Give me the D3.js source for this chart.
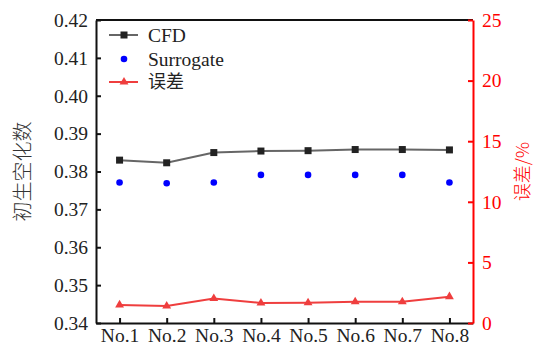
<!DOCTYPE html>
<html><head><meta charset="utf-8">
<script src="https://cdn.jsdelivr.net/npm/d3@7"></script>
<style>body{margin:0;background:#fff}svg{display:block}
.serif{font-family:"Liberation Serif","Times New Roman","DejaVu Serif",serif}
.cjk{font-family:"Noto Sans CJK SC",sans-serif}
</style>
</head><body>
<script>
const categories = ["No.1","No.2","No.3","No.4","No.5","No.6","No.7","No.8"];
const cfd = [0.3830,0.3823,0.3850,0.3854,0.3855,0.3858,0.3858,0.3857];
const surrogate = [0.3771,0.3769,0.3771,0.3791,0.3791,0.3791,0.3791,0.3771];
const errorPct = [1.49,1.40,2.02,1.65,1.67,1.75,1.75,2.17];
const leftTicks = [0.34,0.35,0.36,0.37,0.38,0.39,0.40,0.41,0.42];
const rightTicks = [0,5,10,15,20,25];

const W=535,H=349;
const m={l:96,r:62,t:20,b:26};
const svg=d3.select("body").append("svg").attr("width",W).attr("height",H);
const x=d3.scaleLinear().domain([0.5,categories.length+0.5]).range([m.l,W-m.r]);
const yL=d3.scaleLinear().domain([0.34,0.42]).range([H-m.b,m.t]);
const yR=d3.scaleLinear().domain([0,25]).range([H-m.b,m.t]);
const x0=m.l,x1=W-m.r,y0=H-m.b,y1=m.t;

svg.append("line").attr("x1",x0).attr("x2",x1).attr("y1",y1).attr("y2",y1).attr("stroke","#111").attr("stroke-width",2);

function styleAxis(g,col,tcol){
  g.attr("font-family",null).attr("font-size",null);
  g.select(".domain").attr("stroke",col).attr("stroke-width",2);
  g.selectAll(".tick line").attr("stroke",col).attr("stroke-width",2);
  g.selectAll("text").attr("class","serif").style("font-size","19.5px").attr("fill",tcol);
}
const gL=svg.append("g").attr("transform",`translate(${x0},0)`)
 .call(d3.axisLeft(yL).tickValues(leftTicks).tickFormat(d3.format(".2f")).tickSizeInner(-5).tickSizeOuter(0).tickPadding(8));
styleAxis(gL,"#111","#222");
const gB=svg.append("g").attr("transform",`translate(0,${y0})`)
 .call(d3.axisBottom(x).tickValues(d3.range(1,categories.length+1)).tickFormat(i=>categories[i-1]).tickSizeInner(-5).tickSizeOuter(0).tickPadding(5));
styleAxis(gB,"#111","#222");
const gR=svg.append("g").attr("transform",`translate(${x1},0)`)
 .call(d3.axisRight(yR).tickValues(rightTicks).tickSizeInner(-5).tickSizeOuter(0).tickPadding(9));
styleAxis(gR,"#f00","#f00");

svg.append("text").attr("class","cjk").attr("transform",`translate(30,${(y0+y1)/2}) rotate(-90)`)
 .attr("text-anchor","middle").style("font-size","20px").style("font-weight","300").attr("fill","#333").text("初生空化数");
svg.append("text").attr("class","cjk").attr("transform",`translate(529,${(y0+y1)/2}) rotate(-90)`)
 .attr("text-anchor","middle").style("font-size","18px").style("font-weight","300").attr("fill","#f00").text("误差/%");

const idx=d3.range(categories.length);
svg.append("path").datum(idx).attr("fill","none").attr("stroke","#666").attr("stroke-width",2)
 .attr("d",d3.line().x(i=>x(i+1)).y(i=>yL(cfd[i])));
svg.selectAll(".sq").data(idx).enter().append("rect")
 .attr("x",i=>x(i+1)-3.5).attr("y",i=>yL(cfd[i])-3.5).attr("width",7).attr("height",7).attr("fill","#222");
svg.selectAll(".dot").data(idx).enter().append("circle")
 .attr("cx",i=>x(i+1)).attr("cy",i=>yL(surrogate[i])).attr("r",3.3).attr("fill","#0000ff");
const tri=d3.symbol().type(d3.symbolTriangle).size(34);
svg.append("path").datum(idx).attr("fill","none").attr("stroke","#ef3e3e").attr("stroke-width",2)
 .attr("d",d3.line().x(i=>x(i+1)).y(i=>yR(errorPct[i])));
svg.selectAll(".tri").data(idx).enter().append("path")
 .attr("d",tri).attr("transform",i=>`translate(${x(i+1)},${yR(errorPct[i])})`).attr("fill","#ef3e3e");

const lg=svg.append("g");
const lx1=109,lx2=138,lm=124,tx=148;
const rows=[35,59,82];
lg.append("line").attr("x1",lx1).attr("x2",lx2).attr("y1",rows[0]).attr("y2",rows[0]).attr("stroke","#666").attr("stroke-width",2);
lg.append("rect").attr("x",lm-3.5).attr("y",rows[0]-3.5).attr("width",7).attr("height",7).attr("fill","#222");
lg.append("circle").attr("cx",lm).attr("cy",rows[1]).attr("r",3.3).attr("fill","#0000ff");
lg.append("line").attr("x1",lx1).attr("x2",lx2).attr("y1",rows[2]).attr("y2",rows[2]).attr("stroke","#ef3e3e").attr("stroke-width",2);
lg.append("path").attr("d",tri).attr("transform",`translate(${lm},${rows[2]})`).attr("fill","#ef3e3e");
const labels=["CFD","Surrogate","误差"];
labels.forEach((t,i)=>{
 lg.append("text").attr("class",i==2?"cjk":"serif").attr("x",tx).attr("y",rows[i]).attr("dy","0.35em")
  .style("font-size",i==2?"18px":"19.5px").attr("fill","#222").text(t);
});
</script>
</body></html>
